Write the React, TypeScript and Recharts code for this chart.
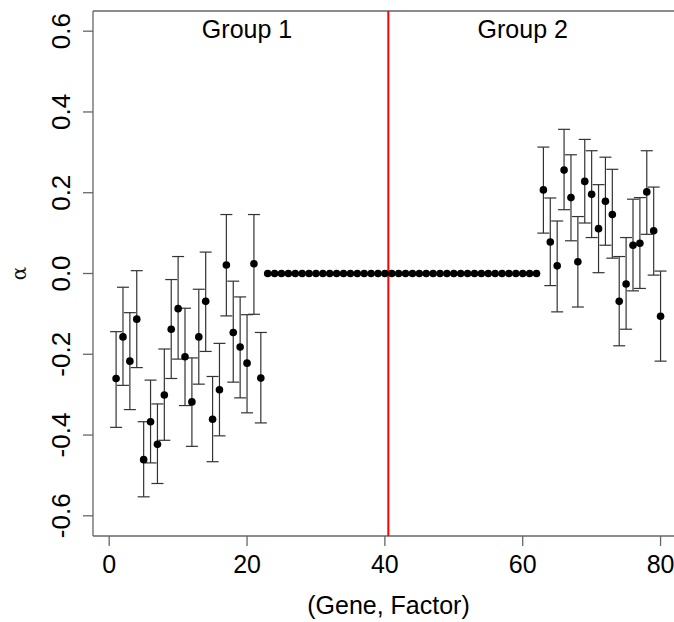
import { ComposedChart, Scatter, XAxis, YAxis, ErrorBar, ReferenceLine, ReferenceDot } from 'recharts';

// estimates + interval bounds
const group1Alpha = [-0.26, -0.157, -0.217, -0.113, -0.461, -0.367, -0.423, -0.301, -0.138, -0.087, -0.206, -0.318, -0.157, -0.069, -0.361, -0.288, 0.021, -0.146, -0.182, -0.222, 0.024, -0.259];
const group1Upper = [-0.144, -0.034, -0.097, 0.007, -0.367, -0.264, -0.323, -0.187, -0.015, 0.042, -0.086, -0.209, -0.039, 0.053, -0.255, -0.173, 0.146, -0.019, -0.058, -0.102, 0.146, -0.146];
const group1Lower = [-0.381, -0.277, -0.337, -0.233, -0.553, -0.469, -0.52, -0.413, -0.26, -0.212, -0.327, -0.428, -0.274, -0.193, -0.466, -0.402, -0.105, -0.269, -0.308, -0.345, -0.101, -0.37];

const nullAlpha = [
  0, 0, 0, 0, 0, 0, 0, 0, 0, 0,
  0, 0, 0, 0, 0, 0, 0, 0, 0, 0,
  0, 0, 0, 0, 0, 0, 0, 0, 0, 0,
  0, 0, 0, 0, 0, 0, 0, 0, 0, 0,
];

const group2Alpha = [0.207, 0.078, 0.019, 0.256, 0.188, 0.029, 0.228, 0.196, 0.111, 0.179, 0.146, -0.069, -0.026, 0.07, 0.075, 0.202, 0.106, -0.106];
const group2Upper = [0.313, 0.187, 0.13, 0.357, 0.294, 0.141, 0.332, 0.304, 0.22, 0.288, 0.258, 0.042, 0.089, 0.184, 0.188, 0.304, 0.214, 0.006];
const group2Lower = [0.1, -0.03, -0.095, 0.158, 0.081, -0.083, 0.125, 0.089, 0.002, 0.07, 0.038, -0.179, -0.138, -0.043, -0.037, 0.097, -0.004, -0.217];

const xTicks = [0, 20, 40, 60, 80];
const yTicks = [-0.6, -0.4, -0.2, 0, 0.2, 0.4, 0.6];

const FONT = '"Liberation Sans", Arial, sans-serif';
const X_DOMAIN = [-2.35, 83.4];
const Y_DOMAIN = [-0.65, 0.65];

const withCI = (est: number[], hi: number[], lo: number[], start: number) =>
  est.map((v, i) => ({ x: start + i, y: v, ci: [v - lo[i], hi[i] - v] }));

const g1Data = withCI(group1Alpha, group1Upper, group1Lower, 1);
const nullData = nullAlpha.map((v, i) => ({ x: group1Alpha.length + 1 + i, y: v }));
const g2Data = withCI(group2Alpha, group2Upper, group2Lower, group1Alpha.length + nullAlpha.length + 1);

const Dot = (props: any) => <circle cx={props.cx} cy={props.cy} r={3.8} fill="#000" />;

const YTick = (props: any) => {
  const cx = props.x - 20;
  return (
    <text x={cx} y={props.y} transform={`rotate(-90 ${cx} ${props.y})`} textAnchor="middle" dominantBaseline="central" fontSize={26} fontFamily={FONT} fill="#000">
      {props.payload.value.toFixed(1)}
    </text>
  );
};

const XTick = (props: any) => (
  <text x={props.x} y={564} textAnchor="middle" dominantBaseline="central" fontSize={25} fontFamily={FONT} fill="#000">
    {props.payload.value}
  </text>
);

const AlphaLabel = (props: any) => {
  const vb = props.viewBox;
  const cx = vb.x + 19;
  const cy = vb.y + vb.height / 2;
  return (
    <text x={cx} y={cy} transform={`rotate(-90 ${cx} ${cy})`} textAnchor="middle" dominantBaseline="central" fontSize={20} fontFamily='"DejaVu Serif", serif' fill="#111">
      α
    </text>
  );
};

const boxLine = { stroke: '#666', strokeWidth: 1.3 };

export default function App() {
  return (
    <div style={{ position: 'fixed', left: 0, top: 0, width: 674, height: 622, overflow: 'hidden', background: '#fff' }}>
      <ComposedChart width={684} height={622} margin={{ top: 11, right: 0, bottom: 6, left: 0 }}>
        <XAxis
          type="number"
          dataKey="x"
          domain={X_DOMAIN}
          allowDataOverflow
          ticks={xTicks}
          axisLine={false}
          tickSize={10}
          tickLine={{ stroke: '#666', strokeWidth: 1.3 }}
          tick={XTick}
          height={80}
          label={{ value: '(Gene, Factor)', position: 'insideBottom', offset: 2, fontSize: 25, fontFamily: FONT, fill: '#000' }}
        />
        <YAxis
          type="number"
          dataKey="y"
          domain={Y_DOMAIN}
          allowDataOverflow
          ticks={yTicks}
          axisLine={false}
          tickSize={10}
          tickLine={{ stroke: '#666', strokeWidth: 1.3 }}
          tick={YTick}
          width={93}
          label={AlphaLabel}
        />
        {/* plot frame: right side falls outside the picture */}
        <ReferenceLine y={Y_DOMAIN[1]} {...boxLine} />
        <ReferenceLine y={Y_DOMAIN[0]} {...boxLine} />
        <ReferenceLine x={X_DOMAIN[0]} {...boxLine} />
        <ReferenceLine x={40.5} stroke="#ff0000" strokeWidth={2} />
        <Scatter data={g1Data} shape={Dot} isAnimationActive={false}>
          <ErrorBar dataKey="ci" direction="y" width={6} stroke="#333" strokeWidth={1.2} />
        </Scatter>
        <Scatter data={nullData} shape={Dot} isAnimationActive={false} />
        <Scatter data={g2Data} shape={Dot} isAnimationActive={false}>
          <ErrorBar dataKey="ci" direction="y" width={6} stroke="#333" strokeWidth={1.2} />
        </Scatter>
        <ReferenceDot x={20} y={0.605} r={0} fill="none" stroke="none" label={{ value: 'Group 1', position: 'center', fontSize: 25, fontFamily: FONT, fill: '#000' }} />
        <ReferenceDot x={60} y={0.605} r={0} fill="none" stroke="none" label={{ value: 'Group 2', position: 'center', fontSize: 25, fontFamily: FONT, fill: '#000' }} />
      </ComposedChart>
    </div>
  );
}
